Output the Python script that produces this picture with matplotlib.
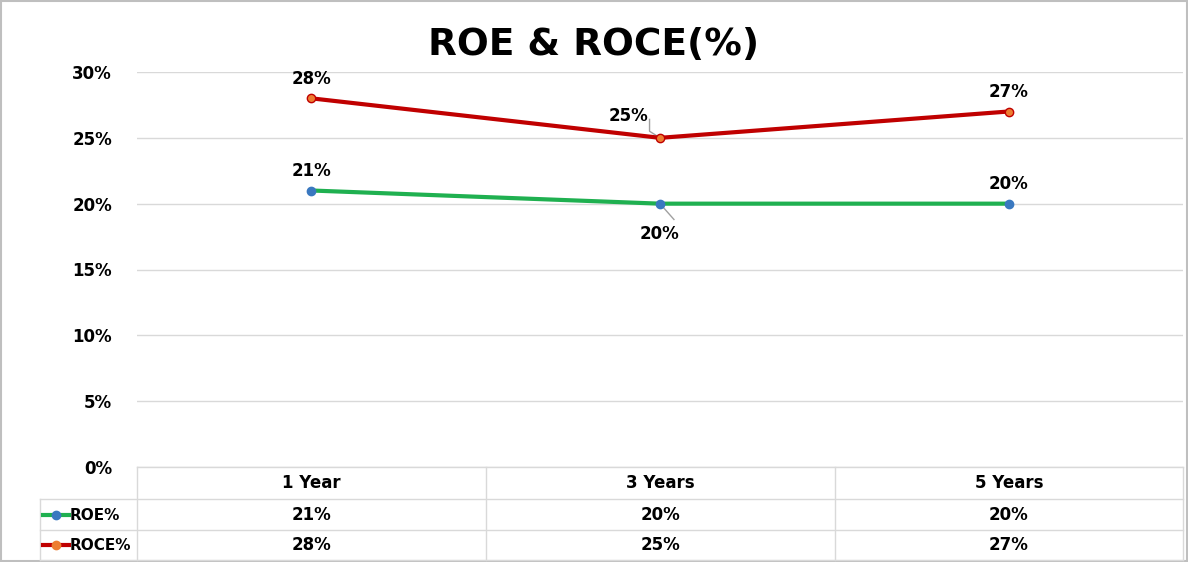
import matplotlib.pyplot as plt
from matplotlib.lines import Line2D

categories = ["1 Year", "3 Years", "5 Years"]
roe = [21, 20, 20]
roce = [28, 25, 27]
series_names = ["ROE%", "ROCE%"]

W, H = 1188, 562
fig = plt.figure(figsize=(W / 100, H / 100), dpi=100)


def fx(px):
    return px / W


def fy(py):
    return 1 - py / H


ax = fig.add_axes([fx(137), fy(467), fx(1183) - fx(137), fy(72) - fy(467)])
x = [i + 0.5 for i in range(len(categories))]
green, red = "#1fb050", "#c00000"
ax.plot(x, roe, color=green, lw=3, marker="o", ms=6, mfc="#3a78c0", mec="#3a78c0", zorder=3)
ax.plot(x, roce, color=red, lw=3, marker="o", ms=6, mfc="#ed7d31", mec="#c00000", zorder=3)
ax.set_xlim(0, 3)
ax.set_ylim(0, 30)
ax.set_yticks(range(0, 31, 5))
ax.set_yticklabels([f"{v}%" for v in range(0, 31, 5)], fontsize=12, fontweight="bold")
ax.set_xticks([])
ax.grid(axis="y", color="#d9d9d9", lw=1)
for s in ax.spines.values():
    s.set_visible(False)
ax.tick_params(axis="y", length=0, pad=18)

lab = dict(fontsize=12, fontweight="bold", ha="center")
ax.text(x[0], roe[0] + 0.8, f"{roe[0]}%", va="bottom", **lab)
ax.text(x[1], roe[1] - 1.6, f"{roe[1]}%", va="top", **lab)
ax.plot([x[1], x[1] + 0.04], [roe[1], roe[1] - 1.2], color="#a0a0a0", lw=1)
ax.text(x[2], roe[2] + 0.8, f"{roe[2]}%", va="bottom", **lab)
ax.text(x[0], roce[0] + 0.8, f"{roce[0]}%", va="bottom", **lab)
ax.text(x[1] - 0.09, roce[1] + 1.0, f"{roce[1]}%", va="bottom", **lab)
ax.plot([x[1] - 0.03, x[1] - 0.03, x[1]], [roce[1] + 1.4, roce[1] + 0.5, roce[1]], color="#a0a0a0", lw=1)
ax.text(x[2], roce[2] + 0.8, f"{roce[2]}%", va="bottom", **lab)

fig.text(0.5, fy(45), "ROE & ROCE(%)", fontsize=27, fontweight="bold", ha="center", va="center")

# data table
gc = "#d9d9d9"
def line(x0, y0, x1, y1):
    fig.add_artist(Line2D([fx(x0), fx(x1)], [fy(y0), fy(y1)], color=gc, lw=1))

cols = [137, 486, 835, 1183]
rows = [467, 499, 530, 560]
for c in cols:
    line(c, 467, c, 560)
line(40, 499, 40, 560)
line(137, 467, 1183, 467)
for r in rows[1:]:
    line(40, r, 1183, r)

for i, c in enumerate(categories):
    cx = (cols[i] + cols[i + 1]) / 2
    fig.text(fx(cx), fy(483), c, fontsize=12, fontweight="bold", ha="center", va="center")
    fig.text(fx(cx), fy(515), f"{roe[i]}%", fontsize=12, fontweight="bold", ha="center", va="center")
    fig.text(fx(cx), fy(545), f"{roce[i]}%", fontsize=12, fontweight="bold", ha="center", va="center")

for ry, col, mfc, name in [(515, green, "#3a78c0", series_names[0]), (545, red, "#ed7d31", series_names[1])]:
    fig.add_artist(Line2D([fx(43), fx(56), fx(69)], [fy(ry)] * 3, color=col, lw=3,
                          marker="o", markevery=[1], ms=6, mfc=mfc, mec=mfc))
    fig.text(fx(70), fy(ry), name, fontsize=11, fontweight="bold", ha="left", va="center")

fig.add_artist(plt.Rectangle((0.001, 0.001), 0.998, 0.998, fill=False, ec="#bfbfbf", lw=1.5,
                             transform=fig.transFigure))
fig.savefig("out.png", dpi=100)
